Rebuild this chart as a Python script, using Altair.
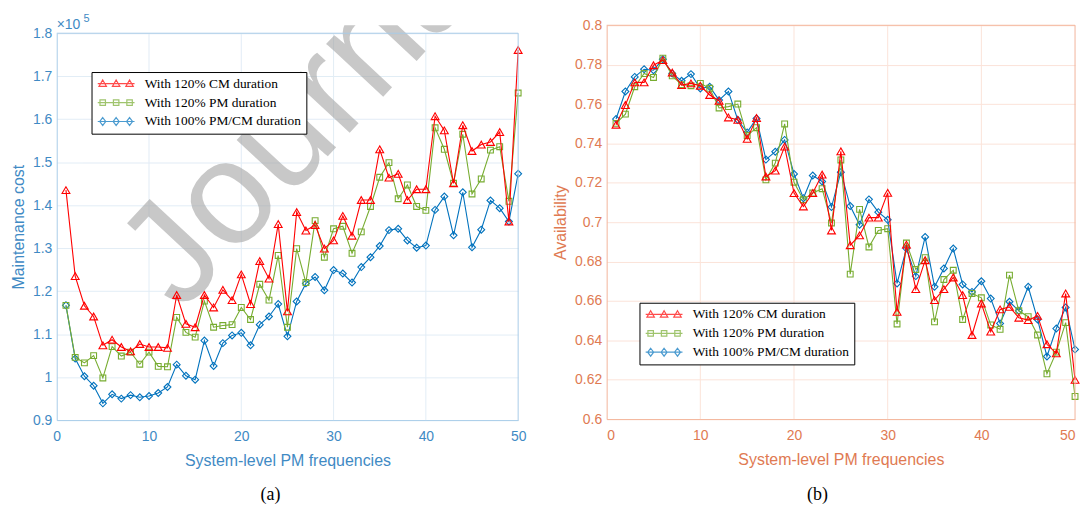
import altair as alt
import pandas as pd

# ---------------- data ----------------
freq = list(range(1, 51))

series_names = ["With 120% CM duration", "With 120% PM duration", "With 100% PM/CM duration"]

# (a) Maintenance cost, in units of 1e5
cost_cm120 = [1.435, 1.235, 1.166, 1.141, 1.074, 1.087, 1.070, 1.060, 1.077, 1.070,
              1.070, 1.068, 1.191, 1.124, 1.116, 1.191, 1.162, 1.203, 1.179, 1.239,
              1.170, 1.270, 1.229, 1.356, 1.153, 1.384, 1.341, 1.354, 1.299, 1.318,
              1.375, 1.329, 1.412, 1.412, 1.530, 1.464, 1.473, 1.412, 1.437, 1.437,
              1.607, 1.574, 1.451, 1.586, 1.526, 1.541, 1.547, 1.570, 1.362, 1.761]
cost_pm120 = [1.167, 1.046, 1.033, 1.050, 0.998, 1.071, 1.049, 1.058, 1.030, 1.058,
              1.025, 1.024, 1.139, 1.104, 1.093, 1.177, 1.116, 1.120, 1.122, 1.162,
              1.134, 1.216, 1.179, 1.283, 1.116, 1.299, 1.220, 1.364, 1.279, 1.345,
              1.351, 1.288, 1.338, 1.397, 1.465, 1.499, 1.415, 1.447, 1.397, 1.388,
              1.580, 1.530, 1.451, 1.565, 1.426, 1.461, 1.528, 1.536, 1.409, 1.661]
cost_base = [1.167, 1.043, 1.002, 0.980, 0.939, 0.960, 0.950, 0.958, 0.953, 0.956,
             0.963, 0.977, 1.029, 1.003, 0.994, 1.085, 1.026, 1.079, 1.097, 1.103,
             1.074, 1.122, 1.141, 1.170, 1.095, 1.176, 1.218, 1.233, 1.202, 1.249,
             1.241, 1.220, 1.256, 1.279, 1.305, 1.342, 1.345, 1.318, 1.301, 1.306,
             1.389, 1.420, 1.330, 1.430, 1.302, 1.343, 1.411, 1.393, 1.362, 1.473]

# (b) Availability
avail_cm120 = [0.7495, 0.7595, 0.7710, 0.7710, 0.7797, 0.7823, 0.7760, 0.7696, 0.7705, 0.7693,
               0.7646, 0.7617, 0.7532, 0.7520, 0.7423, 0.7529, 0.7232, 0.7262, 0.7384, 0.7148,
               0.7080, 0.7148, 0.7242, 0.6958, 0.7360, 0.6883, 0.6933, 0.7023, 0.7023, 0.7149,
               0.6545, 0.6886, 0.6660, 0.6807, 0.6604, 0.6660, 0.6719, 0.6630, 0.6427, 0.6587,
               0.6444, 0.6557, 0.6570, 0.6515, 0.6503, 0.6524, 0.6380, 0.6334, 0.6638, 0.6199]
avail_pm120 = [0.7502, 0.7549, 0.7688, 0.7755, 0.7735, 0.7833, 0.7743, 0.7698, 0.7693, 0.7705,
               0.7680, 0.7580, 0.7587, 0.7600, 0.7440, 0.7480, 0.7215, 0.7300, 0.7499, 0.7203,
               0.7114, 0.7148, 0.7170, 0.6996, 0.7316, 0.6736, 0.7065, 0.6874, 0.6958, 0.6967,
               0.6483, 0.6894, 0.6760, 0.6820, 0.6494, 0.6709, 0.6756, 0.6506, 0.6638, 0.6616,
               0.6478, 0.6456, 0.6731, 0.6550, 0.6520, 0.6427, 0.6230, 0.6340, 0.6490, 0.6115]
avail_base = [0.7524, 0.7664, 0.7738, 0.7777, 0.7772, 0.7828, 0.7755, 0.7718, 0.7752, 0.7679,
              0.7688, 0.7620, 0.7664, 0.7519, 0.7456, 0.7527, 0.7318, 0.7358, 0.7418, 0.7245,
              0.7122, 0.7237, 0.7207, 0.7077, 0.7254, 0.7082, 0.6987, 0.7116, 0.7051, 0.7012,
              0.6689, 0.6866, 0.6726, 0.6925, 0.6672, 0.6765, 0.6866, 0.6684, 0.6646, 0.6700,
              0.6612, 0.6486, 0.6596, 0.6550, 0.6672, 0.6506, 0.6318, 0.6460, 0.6567, 0.6354]

cost_ticks = [0.9, 1.0, 1.1, 1.2, 1.3, 1.4, 1.5, 1.6, 1.7, 1.8]
avail_ticks = [0.6, 0.62, 0.64, 0.66, 0.68, 0.7, 0.72, 0.74, 0.76, 0.78, 0.8]
x_ticks = [0, 10, 20, 30, 40, 50]

# ---------------- styles ----------------
SANS = "Liberation Sans"
SERIF = "Liberation Serif"
series_colors = ["#ff0000", "#77ac30", "#0072bd"]
series_shapes = ["triangle-up", "square", "diamond"]
series_sizes = [62, 34, 48]

BLUE_AX = "#3f8ac4"
BLUE_DOM = "#a9cde8"
BLUE_GRID = "#e2edf6"
ORANGE_AX = "#e07a52"
ORANGE_DOM = "#f3b49b"
ORANGE_GRID = "#fbe3d9"


def legend_glyph(kind):
    parts = ["M-3.7,0H3.7"]
    for cx in (-2.7, 0.0, 2.7):
        if kind == "triangle-up":
            parts.append(f"M{cx},-0.75L{cx + 0.75},0.55L{cx - 0.75},0.55Z")
        elif kind == "square":
            parts.append(f"M{cx - 0.55},-0.55H{cx + 0.55}V0.55H{cx - 0.55}Z")
        else:
            parts.append(f"M{cx},-0.8L{cx + 0.6},0L{cx},0.8L{cx - 0.6},0Z")
    return "".join(parts)


glyphs = [legend_glyph(s) for s in series_shapes]


def panel(values, ydomain, yticks, ytitle, axis_color, dom_color, grid_color,
          width, height, top_gap, legend_xy, caption, caption_xy,
          flush=False, below_layers=(), extra_layers=()):
    xscale = alt.Scale(domain=[0, 50], nice=False, zero=False)
    yscale = alt.Scale(domain=ydomain, nice=False, zero=False, range=[height, top_gap])
    xaxis = alt.Axis(values=x_ticks, format="d", title="System-level PM frequencies",
                     titleFont=SANS, titleFontSize=16, titleFontWeight="normal",
                     titleColor=axis_color, labelFont=SANS, labelFontSize=14,
                     labelColor=axis_color, domainColor=dom_color, ticks=False,
                     labelPadding=10, titlePadding=9, grid=False,
                     labelFlush=flush, labelOverlap=False)
    yaxis = alt.Axis(values=yticks, format="~g", title=ytitle,
                     titleFont=SANS, titleFontSize=16, titleFontWeight="normal",
                     titleColor=axis_color, labelFont=SANS, labelFontSize=14,
                     labelColor=axis_color, domainColor=dom_color, ticks=False,
                     labelPadding=5, titlePadding=6, grid=True, gridColor=grid_color,
                     gridOpacity=1, labelFlush=False, labelOverlap=False)

    def X(**kw):
        return alt.X(scale=xscale, axis=xaxis, **kw)

    def Y(**kw):
        return alt.Y(scale=yscale, axis=yaxis, **kw)

    # vertical grid lines and the top / right edges of the box, drawn through the scales
    vgrid = alt.Chart(pd.DataFrame({"freq": x_ticks[1:-1]})).mark_rule(
        color=grid_color, strokeWidth=1
    ).encode(x=X(field="freq", type="quantitative"),
             y=Y(datum=ydomain[0]), y2=alt.Y2(datum=ydomain[1]))
    top_edge = alt.Chart(pd.DataFrame({"freq": [0]})).mark_rule(color=dom_color).encode(
        x=X(datum=0), x2=alt.X2(datum=50), y=Y(datum=ydomain[1]))
    right_edge = alt.Chart(pd.DataFrame({"freq": [50]})).mark_rule(color=dom_color).encode(
        x=X(datum=50), y=Y(datum=ydomain[0]), y2=alt.Y2(datum=ydomain[1]))
    layers = [vgrid, *below_layers]
    # draw blue first, red last (on top)
    for i in (2, 1, 0):
        df = pd.DataFrame({"freq": freq, "value": values[i]})
        base = alt.Chart(df)
        enc = dict(x=X(field="freq", type="quantitative"),
                   y=Y(field="value", type="quantitative"))
        layers.append(base.mark_line(color=series_colors[i], strokeWidth=1.1).encode(**enc))
        layers.append(base.mark_point(shape=series_shapes[i], color=series_colors[i],
                                      size=series_sizes[i], strokeWidth=1.1,
                                      filled=False, opacity=1).encode(**enc))
    leg = alt.Legend(title=None, orient="none", legendX=legend_xy[0], legendY=legend_xy[1],
                     strokeColor="black", fillColor="white", padding=5,
                     labelFont=SERIF, labelFontSize=13.5, labelColor="black",
                     symbolSize=100, symbolStrokeWidth=1.2, symbolOffset=13,
                     labelOffset=22, rowPadding=4, labelLimit=400)
    leg_df = pd.DataFrame({"series": series_names})
    legend_layer = alt.Chart(leg_df).mark_point(filled=False, strokeWidth=1.2).encode(
        color=alt.Color("series:N", scale=alt.Scale(domain=series_names, range=series_colors), legend=leg),
        shape=alt.Shape("series:N", scale=alt.Scale(domain=series_names, range=glyphs), legend=leg),
    ).transform_filter("false")
    cap = alt.Chart(pd.DataFrame({"t": [caption]})).mark_text(
        font=SERIF, fontSize=18, color="black", baseline="middle", align="center"
    ).encode(text="t:N", x=alt.value(caption_xy[0]), y=alt.value(caption_xy[1]))
    chart = alt.layer(*layers, top_edge, right_edge, *extra_layers, legend_layer, cap).properties(
        width=width, height=height,
        view=alt.ViewBackground(stroke="transparent", strokeWidth=0),
    )
    return chart


# left panel is drawn 8 px lower than the right one (as in the reference)
LEFT_GAP = 8

exp_base = alt.Chart(pd.DataFrame({"t": ["×10"]})).mark_text(
    font=SANS, fontSize=14, color=BLUE_AX, align="left", baseline="alphabetic"
).encode(text="t:N", x=alt.value(0), y=alt.value(LEFT_GAP - 4))
exp_power = alt.Chart(pd.DataFrame({"t": ["5"]})).mark_text(
    font=SANS, fontSize=11, color=BLUE_AX, align="left", baseline="alphabetic"
).encode(text="t:N", x=alt.value(27), y=alt.value(LEFT_GAP - 11))

watermark = alt.Chart(pd.DataFrame({"t": ["Journal Pre-proof"]})).mark_text(
    font=SANS, fontSize=148, color="#a4a4a4", opacity=0.6, align="left",
    baseline="alphabetic", angle=313, clip=True
).encode(text="t:N", x=alt.value(125), y=alt.value(290))

left = panel([cost_cm120, cost_pm120, cost_base], [0.9, 1.8], cost_ticks,
             "Maintenance cost", BLUE_AX, BLUE_DOM, BLUE_GRID, 464, 389 + LEFT_GAP, LEFT_GAP,
             (35, 47), "(a)", (215, 472), flush=False,
             below_layers=(watermark,), extra_layers=(exp_base, exp_power))
right = panel([avail_cm120, avail_pm120, avail_base], [0.6, 0.8], avail_ticks,
              "Availability", ORANGE_AX, ORANGE_DOM, ORANGE_GRID, 471, 396, 0,
              (33, 279), "(b)", (212, 472), flush=True)

chart = alt.hconcat(left, right, spacing=26).resolve_scale(
    color="independent", shape="independent", x="independent", y="independent"
).resolve_legend(color="independent", shape="independent").properties(
    padding={"left": 2, "top": 4, "right": 0, "bottom": 0}
).configure(background="white")

chart.save("out.html", embed_options={"renderer": "svg", "actions": False})
